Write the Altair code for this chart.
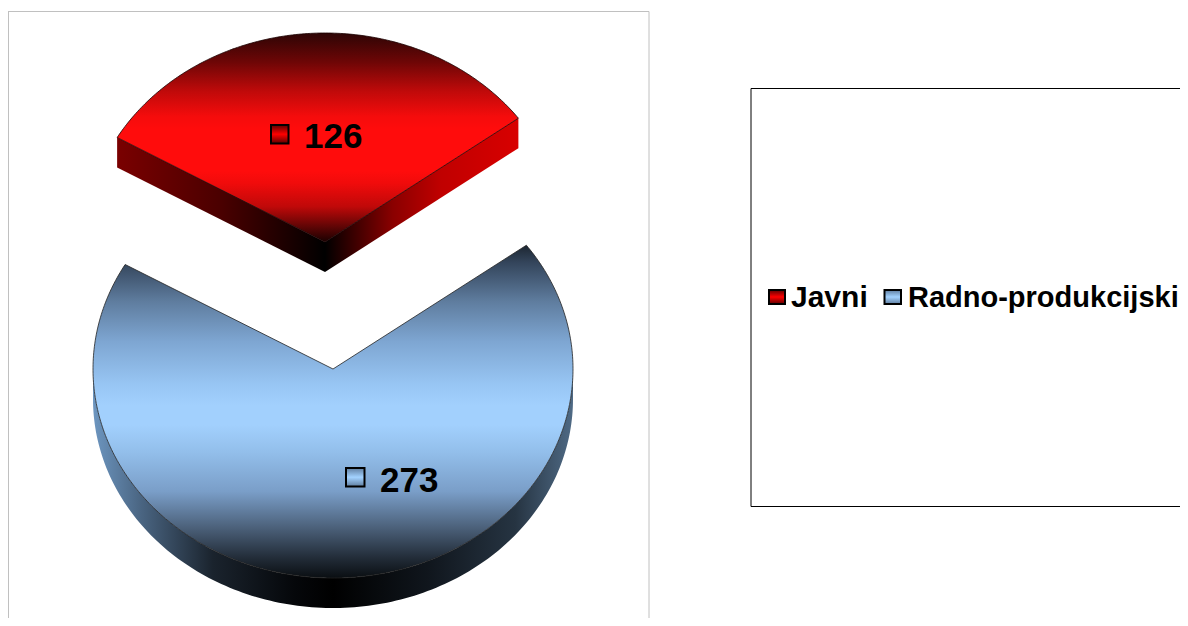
import altair as alt
import numpy as np
import pandas as pd

# ---- data
names = ["Javni", "Radno-produkcijski"]
values = [126, 273]
start_clock_deg = -60.0   # pie rotation (first slice start)

# ---- pie projection
W, H = 1172, 610
CX, CY, RX, RY = 325.0, 361.0, 240.0, 209.0   # plot pixels for the main ellipse
DEPTH = 30.0 / RY
EXPLODE = (-8.0 / RX, -127.0 / RY)

x_scale = alt.Scale(domain=[(0 - CX) / RX, (W - CX) / RX], range=[0, W])
y_scale = alt.Scale(domain=[(0 - CY) / RY, (H - CY) / RY], range=[0, H])

share = np.array(values, dtype=float) / sum(values) * 360.0
a0 = start_clock_deg
a1 = a0 + share[0]
a2 = a1 + share[1]


def arc(a_from, a_to, n=160):
    t = np.radians(np.linspace(a_from, a_to, n))
    return np.sin(t), -np.cos(t)


def poly(xs, ys):
    return pd.DataFrame({"x": xs, "y": ys, "i": np.arange(len(xs))})


def shape(xs, ys, fill, stroke=None, sw=0.8):
    kw = dict(fill=fill, strokeWidth=sw, stroke=stroke if stroke else "transparent")
    return alt.Chart(poly(xs, ys)).mark_line(**kw).encode(
        x=alt.X("x:Q", scale=x_scale, axis=None),
        y=alt.Y("y:Q", scale=y_scale, axis=None),
        order=alt.Order("i:Q"),
    )


def grad(stops, horizontal=False):
    kw = dict(x1=0, y1=0, x2=1, y2=0) if horizontal else dict(x1=0, y1=0, x2=0, y2=1)
    return alt.Gradient(
        gradient="linear",
        stops=[alt.GradientStop(offset=o, color=c) for o, c in stops],
        **kw,
    )


red_face = grad([(0, "#2d0505"), (0.14, "#6e0606"), (0.28, "#c00a0a"), (0.40, "#f50c0c"),
                 (0.46, "#ff0c0c"), (0.66, "#ff0c0c"), (0.72, "#f00b0b"), (0.83, "#c00909"),
                 (0.93, "#5c0505"), (1, "#1a0101")])
red_left = grad([(0, "#7a0000"), (0.5, "#4a0000"), (1, "#000000")], True)
red_right = grad([(0, "#000000"), (0.35, "#8a0000"), (0.6, "#c00000"), (1, "#d80000")], True)
blue_face = grad([(0, "#1c2631"), (0.05, "#33445a"), (0.17, "#5f7d9f"), (0.29, "#7ea6d2"),
                  (0.42, "#98c6f4"), (0.48, "#a2d0fd"), (0.54, "#a2d0fd"), (0.62, "#93bfeb"),
                  (0.74, "#7a9ec8"), (0.85, "#4b6079"), (0.94, "#222c38"), (1, "#0a0e12")])
blue_wall = grad([(0, "#6d96c0"), (0.1, "#4a6582"), (0.25, "#1a232d"), (0.42, "#05070a"),
                  (0.5, "#000000"), (0.7, "#10161d"), (0.88, "#263442"), (1, "#4f6a85")], True)

# red slice
ex, ey = EXPLODE
rl_x, rl_y = np.sin(np.radians(a0)) + ex, -np.cos(np.radians(a0)) + ey
rr_x, rr_y = np.sin(np.radians(a1)) + ex, -np.cos(np.radians(a1)) + ey
wall_left = shape([rl_x, ex, ex, rl_x, rl_x],
                  [rl_y, ey, ey + DEPTH, rl_y + DEPTH, rl_y], red_left)
wall_right = shape([ex, rr_x, rr_x, ex, ex],
                   [ey, rr_y, rr_y + DEPTH, ey + DEPTH, ey], red_right)
ax, ay = arc(a0, a1)
red_top = shape(np.r_[ex, ax + ex, ex], np.r_[ey, ay + ey, ey], red_face, "#1a0000")

# blue slice
wx, wy = arc(90, 270)
blue_side = shape(np.r_[wx, wx[::-1]], np.r_[wy + DEPTH, wy[::-1]], blue_wall)
bx, by = arc(a1, a2, 300)
blue_top = shape(np.r_[0, bx, 0], np.r_[0, by, 0], blue_face, "#222222")

# ---- furniture in plot pixels (page pixel minus the 8px margin)
one = pd.DataFrame({"k": [0]})


def hline(x1, x2, y, c, sw):
    return alt.Chart(one).mark_rule(color=c, strokeWidth=sw).encode(
        x=alt.value(x1), x2=alt.value(x2), y=alt.value(y))


def vline(x, y1, y2, c, sw):
    return alt.Chart(one).mark_rule(color=c, strokeWidth=sw).encode(
        x=alt.value(x), y=alt.value(y1), y2=alt.value(y2))


def key(x1, x2, y1, y2, fill):
    return alt.Chart(one).mark_rect(fill=fill, stroke="#000000", strokeWidth=2).encode(
        x=alt.value(x1), x2=alt.value(x2), y=alt.value(y1), y2=alt.value(y2))


def label(text, x, y, size):
    return alt.Chart(one).mark_text(
        text=text, align="left", baseline="alphabetic", font="Liberation Sans",
        fontWeight="bold", fontSize=size, color="#000000",
    ).encode(x=alt.value(x), y=alt.value(y))


red_key = grad([(0, "#5c0000"), (0.5, "#ff0000"), (1, "#5c0000")])
blue_key = grad([(0, "#5f7d9f"), (0.5, "#a3d2ff"), (1, "#5f7d9f")])

frame = [
    hline(0, 641, 3.5, "#c0c0c0", 1),
    vline(0.5, 3.5, H, "#c0c0c0", 1),
    vline(641, 3.5, H, "#c0c0c0", 1),
]
legend_box = [
    hline(743, W, 80.5, "#000000", 1),
    hline(743, W, 498.5, "#000000", 1),
    vline(743, 80.5, 498.5, "#000000", 1),
]
texts = [
    key(263, 280.5, 117, 135.5, red_key),
    label(str(values[0]), 296, 139.5, 35),
    key(338, 356.5, 460, 478.5, blue_key),
    label(str(values[1]), 372, 483.5, 35),
    key(761, 777, 282, 296, red_key),
    label(names[0], 783, 298.5, 30),
    key(876.5, 893, 282, 296, blue_key),
    label(names[1], 900, 298.5, 29),
]

chart = alt.layer(
    *frame, *legend_box, blue_side, blue_top, wall_left, wall_right, red_top, *texts
).properties(
    width=W, height=H, padding=0,
    autosize=alt.AutoSizeParams(type="none"),
    background="white",
).resolve_scale(x="shared", y="shared").configure_view(stroke=None)

chart.save("out.html", embed_options={"renderer": "svg", "actions": False})
